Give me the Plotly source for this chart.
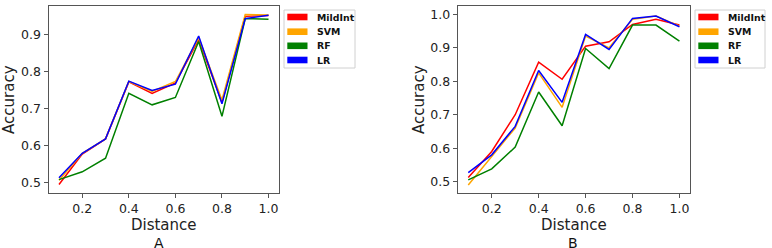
import plotly.graph_objects as go

distance = [0.1, 0.2, 0.3, 0.4, 0.5, 0.6, 0.7, 0.8, 0.9, 1.0]
series_names = ["MildInt", "SVM", "RF", "LR"]
colors = {"MildInt": "#ff0000", "SVM": "#ffa500", "RF": "#008000", "LR": "#0000ff"}

# Panel A
a_mildint = [0.494, 0.576, 0.617, 0.771, 0.740, 0.768, 0.885, 0.715, 0.948, 0.950]
a_svm     = [0.505, 0.578, 0.617, 0.772, 0.745, 0.772, 0.890, 0.722, 0.953, 0.952]
a_rf      = [0.507, 0.528, 0.565, 0.740, 0.709, 0.729, 0.880, 0.678, 0.942, 0.940]
a_lr      = [0.512, 0.578, 0.617, 0.773, 0.748, 0.765, 0.895, 0.712, 0.942, 0.951]

# Panel B
b_mildint = [0.512, 0.590, 0.700, 0.857, 0.806, 0.905, 0.918, 0.970, 0.985, 0.968]
b_svm     = [0.490, 0.575, 0.660, 0.825, 0.722, 0.935, 0.900, 0.985, 0.995, 0.965]
b_rf      = [0.505, 0.538, 0.603, 0.768, 0.667, 0.898, 0.838, 0.968, 0.968, 0.920]
b_lr      = [0.527, 0.580, 0.665, 0.832, 0.737, 0.940, 0.895, 0.988, 0.995, 0.963]

panel_a = {"MildInt": a_mildint, "SVM": a_svm, "RF": a_rf, "LR": a_lr}
panel_b = {"MildInt": b_mildint, "SVM": b_svm, "RF": b_rf, "LR": b_lr}

xticks = [0.2, 0.4, 0.6, 0.8, 1.0]
xtick_labels = ["0.2", "0.4", "0.6", "0.8", "1.0"]
a_yticks = [0.5, 0.6, 0.7, 0.8, 0.9]
a_ytick_labels = ["0.5", "0.6", "0.7", "0.8", "0.9"]
b_yticks = [0.5, 0.6, 0.7, 0.8, 0.9, 1.0]
b_ytick_labels = ["0.5", "0.6", "0.7", "0.8", "0.9", "1.0"]
panel_labels = ["A", "B"]

FONT = "DejaVu Sans"
W, H = 772, 248
TXT = "#222222"


def px_x(p):
    return p / W


def px_y(p):
    return 1 - p / H


fig = go.Figure()

for name in series_names:
    fig.add_trace(go.Scatter(x=distance, y=panel_a[name], mode="lines", name=name,
                             line=dict(color=colors[name], width=1.5),
                             xaxis="x", yaxis="y", showlegend=False))
for name in series_names:
    fig.add_trace(go.Scatter(x=distance, y=panel_b[name], mode="lines", name=name,
                             line=dict(color=colors[name], width=1.5),
                             xaxis="x2", yaxis="y2", showlegend=False))

axis_common = dict(showgrid=False, zeroline=False, showline=True, mirror=True,
                   linecolor="#555555", linewidth=1, ticks="outside", ticklen=4,
                   tickcolor="#555555", automargin=False,
                   tickfont=dict(family=FONT, size=12.5, color=TXT))
title_font = dict(family=FONT, size=15, color=TXT)

# Manual legends (box + colour patches + bold labels)
shapes = []
annotations = []
legend_boxes = [(284, 10, 355, 68), (695, 10, 765, 68)]
row_y = [17, 31.7, 45.8, 60]
for (bx0, by0, bx1, by1) in legend_boxes:
    shapes.append(dict(type="rect", xref="paper", yref="paper",
                       x0=px_x(bx0), x1=px_x(bx1), y0=px_y(by1), y1=px_y(by0),
                       line=dict(color="#d0d0d0", width=1), fillcolor="white", layer="above"))
    for name, ry in zip(series_names, row_y):
        shapes.append(dict(type="rect", xref="paper", yref="paper",
                           x0=px_x(bx0 + 3.3), x1=px_x(bx0 + 23.5),
                           y0=px_y(ry + 3.3), y1=px_y(ry - 3.3),
                           line=dict(width=0), fillcolor=colors[name], layer="above"))
        annotations.append(dict(text="<b>" + name + "</b>", xref="paper", yref="paper",
                                x=px_x(bx0 + 30.5), y=px_y(ry), xanchor="left", yanchor="middle",
                                showarrow=False,
                                font=dict(family=FONT, size=9.4, color="#111111")))

for label, cx in zip(panel_labels, [158.5, 573.2]):
    annotations.append(dict(text=label, x=px_x(cx), y=px_y(242.5), xref="paper", yref="paper",
                            showarrow=False, font=dict(family=FONT, size=14, color="#111111"),
                            xanchor="center", yanchor="middle"))

fig.update_layout(
    width=W, height=H,
    margin=dict(l=0, r=0, t=0, b=0),
    paper_bgcolor="white", plot_bgcolor="white",
    font=dict(family=FONT, color=TXT),
    showlegend=False,
    xaxis=dict(domain=[px_x(48.5), px_x(279)], range=[0.055, 1.045],
               tickvals=xticks, ticktext=xtick_labels,
               title=dict(text="Distance", font=title_font, standoff=3),
               anchor="y", **axis_common),
    yaxis=dict(domain=[px_y(193.3), px_y(6)], range=[0.47, 0.976],
               tickvals=a_yticks, ticktext=a_ytick_labels,
               title=dict(text="Accuracy", font=title_font, standoff=2),
               anchor="x", **axis_common),
    xaxis2=dict(domain=[px_x(457.7), px_x(690)], range=[0.055, 1.045],
                tickvals=xticks, ticktext=xtick_labels,
                title=dict(text="Distance", font=title_font, standoff=3),
                anchor="y2", **axis_common),
    yaxis2=dict(domain=[px_y(193.3), px_y(6)], range=[0.465, 1.025],
                tickvals=b_yticks, ticktext=b_ytick_labels,
                title=dict(text="Accuracy", font=title_font, standoff=2),
                anchor="x2", **axis_common),
    shapes=shapes,
    annotations=annotations,
)

fig.write_html(
    "out.html",
    config={"displayModeBar": False},
    post_script="document.body.style.margin='0';document.body.style.overflow='hidden';",
)
